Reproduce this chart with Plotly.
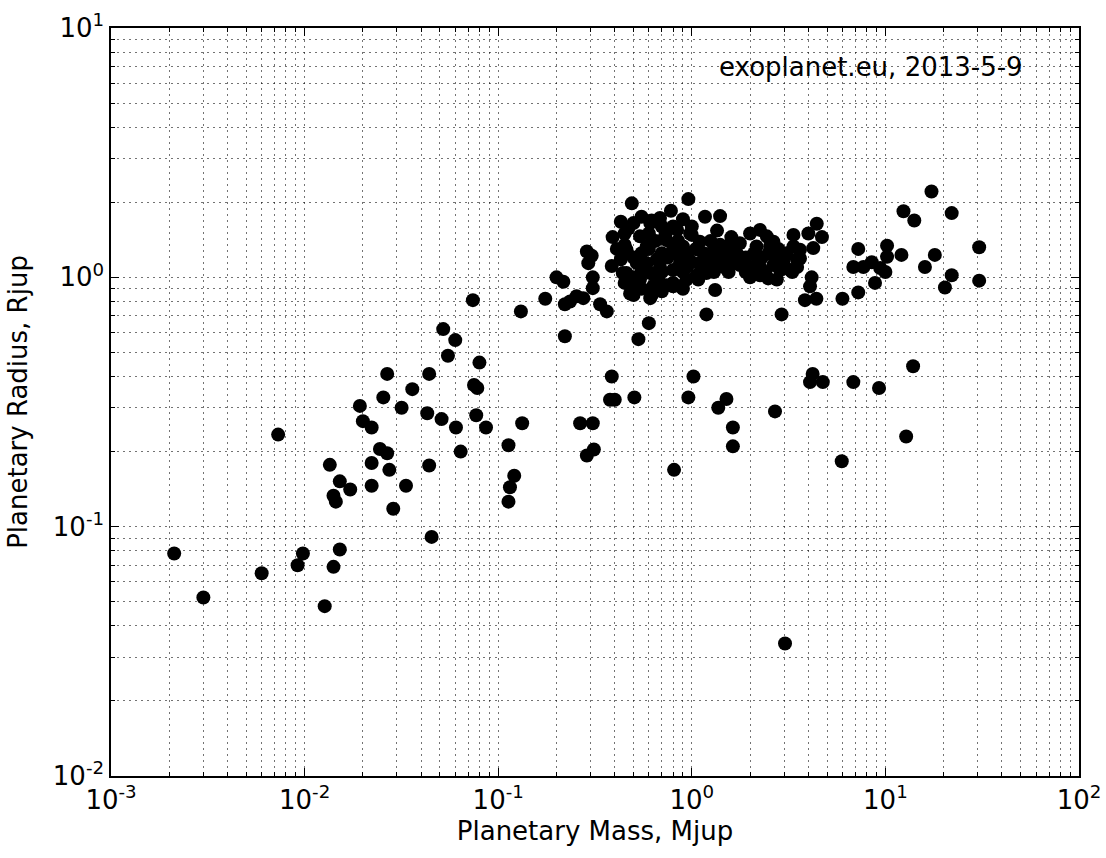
import plotly.graph_objects as go

# Planetary mass (Mjup) and radius (Rjup)
mass_low = [0.074, 0.175, 0.131, 0.052, 0.060, 0.055, 0.080, 0.0267, 0.044, 0.075, 0.078, 0.036,
            0.0255, 0.0193, 0.0317, 0.043, 0.051, 0.0605, 0.077, 0.0865, 0.133, 0.020, 0.0222, 0.0073,
            0.0245, 0.0267, 0.064, 0.113, 0.0135, 0.0222, 0.044, 0.0274, 0.121, 0.0152, 0.0172, 0.0222,
            0.0334, 0.115, 0.0141, 0.0145, 0.113, 0.0287, 0.0453, 0.00212, 0.0152, 0.0098, 0.0092,
            0.0141, 0.006, 0.003, 0.0127]
radius_low = [0.81, 0.82, 0.73, 0.62, 0.56, 0.485, 0.455, 0.41, 0.41, 0.37, 0.36, 0.356,
              0.33, 0.305, 0.30, 0.285, 0.27, 0.25, 0.28, 0.25, 0.26, 0.265, 0.25, 0.234,
              0.205, 0.197, 0.20, 0.212, 0.177, 0.18, 0.176, 0.169, 0.16, 0.152, 0.141, 0.146,
              0.146, 0.144, 0.133, 0.126, 0.126, 0.118, 0.091, 0.078, 0.081, 0.078, 0.070,
              0.069, 0.065, 0.052, 0.048]

mass_mid = [0.49, 0.43, 0.47, 0.39, 0.287, 0.304, 0.292, 0.386, 0.20, 0.217, 0.308, 0.308, 0.254,
            0.275, 0.221, 0.235, 0.336, 0.364, 0.221, 0.53, 0.6, 0.41, 0.43]
radius_mid = [1.98, 1.67, 1.57, 1.45, 1.27, 1.22, 1.14, 1.11, 1.0, 0.96, 1.0, 0.905, 0.84,
              0.825, 0.78, 0.80, 0.78, 0.73, 0.58, 0.565, 0.655, 1.30, 1.18]

mass_hot = [0.96, 0.78, 1.17, 1.40, 1.35, 0.90, 0.62, 3.35, 4.0, 4.24, 2.25, 1.32, 1.19, 2.91,
            0.61, 4.16, 4.08, 3.84, 2.75, 2.0,
            0.685, 0.84, 1.0, 1.10, 0.54, 0.585, 0.74, 0.46, 0.52, 0.66, 0.87, 1.24, 1.51, 1.77,
            2.64, 2.16, 3.35, 2.97, 3.62, 2.64, 2.0, 1.64, 1.35, 1.10, 0.94, 0.685, 0.46, 0.61,
            0.80, 1.10, 0.50, 0.63, 0.80, 0.94, 1.06, 0.50, 2.25, 3.22, 0.44, 0.48,
            0.61, 0.73, 0.98, 0.90, 1.08, 1.40, 2.0, 2.44, 2.54, 1.77, 1.51, 1.19, 0.87, 0.585,
            0.54, 1.19, 1.46, 1.77, 2.25, 2.97, 3.49, 3.62, 3.09, 2.0, 2.25, 2.48, 2.86, 0.80,
            0.685, 0.62, 0.74, 0.87, 1.08]
radius_hot = [2.06, 1.85, 1.75, 1.76, 1.54, 1.71, 1.69, 1.48, 1.50, 1.31, 1.55, 0.89, 0.71, 0.71,
              0.825, 1.0, 0.92, 0.81, 0.98, 1.04,
              1.73, 1.55, 1.48, 1.39, 1.46, 1.33, 1.41, 1.29, 1.14, 1.18, 1.21, 1.23, 1.33, 1.37,
              1.39, 1.33, 1.33, 1.19, 1.19, 1.12, 1.10, 1.16, 1.16, 1.14, 1.10, 1.10, 1.04, 1.04,
              1.07, 1.04, 0.93, 0.92, 0.92, 0.98, 1.02, 0.85, 1.05, 1.07, 1.04, 0.86,
              1.65, 1.48, 1.50, 1.33, 1.29, 1.35, 1.50, 1.46, 1.33, 1.21, 1.18, 1.14, 1.14, 1.14,
              0.98, 1.04, 1.10, 1.12, 1.10, 1.14, 1.18, 1.29, 1.25, 1.0, 1.02, 0.99, 1.07, 0.95,
              0.95, 0.85, 0.93, 0.92, 0.98]

mass_core = [0.45, 0.50, 0.55, 0.60, 0.65, 0.70, 0.75, 0.80, 0.85, 0.90, 0.95, 1.05, 1.15, 1.25,
             1.30, 1.45, 1.60, 1.70, 1.90, 2.10, 2.30, 2.50, 2.70, 2.80, 3.00, 3.30, 3.50, 0.55,
             0.65, 0.70, 0.90, 1.00, 1.20, 1.40, 1.55, 1.90, 2.20, 0.60, 0.70, 0.80, 0.45, 0.55,
             0.70, 0.90, 1.00, 0.50, 0.55, 0.45, 0.50, 1.30, 1.60, 2.40]
radius_core = [1.35, 1.20, 1.25, 1.30, 1.40, 1.25, 1.20, 1.30, 1.40, 1.20, 1.25, 1.30, 1.25, 1.40,
               1.30, 1.25, 1.30, 1.25, 1.20, 1.25, 1.20, 1.25, 1.20, 1.30, 1.10, 1.05, 1.10, 1.05,
               1.00, 1.05, 1.05, 1.15, 1.20, 1.15, 1.05, 1.05, 1.15, 1.50, 1.60, 1.60, 1.50, 0.90,
               0.88, 0.90, 1.60, 1.65, 1.75, 0.95, 1.00, 1.05, 1.45, 1.05]

mass_heavy = [17.3, 12.4, 14.1, 22, 30.5, 30.5, 22, 20.3, 16, 18, 12.1, 10.2, 10.2, 10, 8.84,
              7.24, 6.0, 7.24, 6.83, 7.7, 8.5, 9.4, 4.42, 4.7, 4.4]
radius_heavy = [2.21, 1.84, 1.69, 1.81, 1.32, 0.97, 1.02, 0.91, 1.10, 1.23, 1.23, 1.34, 1.21, 1.05,
                0.95, 0.87, 0.82, 1.30, 1.10, 1.10, 1.15, 1.09, 1.64, 1.45, 0.82]

mass_small = [0.386, 0.378, 0.40, 0.505, 1.02, 0.96, 1.51, 1.37, 2.69, 1.63, 1.63, 0.265, 0.308,
              0.287, 0.312, 0.81, 13.9, 4.21, 4.08, 4.75, 6.83, 9.27, 12.8, 5.95, 3.03]
radius_small = [0.40, 0.323, 0.323, 0.33, 0.40, 0.33, 0.325, 0.30, 0.29, 0.25, 0.21, 0.26, 0.26,
                0.193, 0.204, 0.169, 0.44, 0.41, 0.38, 0.38, 0.38, 0.36, 0.23, 0.183, 0.034]

x_tick_vals = [1e-3, 1e-2, 1e-1, 1, 10, 100]
x_tick_text = ["10<sup>-3</sup>", "10<sup>-2</sup>", "10<sup>-1</sup>", "10<sup>0</sup>",
               "10<sup>1</sup>", "10<sup>2</sup>"]
y_tick_vals = [1e-2, 1e-1, 1, 10]
y_tick_text = ["10<sup>-2</sup>", "10<sup>-1</sup>", "10<sup>0</sup>", "10<sup>1</sup>"]

mass = mass_low + mass_mid + mass_hot + mass_core + mass_heavy + mass_small
radius = radius_low + radius_mid + radius_hot + radius_core + radius_heavy + radius_small


def minor_vals(lo, hi):
    out = []
    for e in range(lo, hi):
        for k in range(2, 10):
            out.append(k * 10.0 ** e)
    return out


FONT = "DejaVu Sans"
FS = 26
fig = go.Figure()
fig.add_trace(go.Scatter(x=mass, y=radius, mode="markers",
                         marker=dict(color="black", size=14, line=dict(width=0)),
                         showlegend=False, hoverinfo="x+y"))

grid_common = dict(gridcolor="rgba(0,0,0,0.55)", gridwidth=1, griddash="2px,4px")

fig.update_xaxes(type="log", range=[-3, 2], tickmode="array", tickvals=x_tick_vals,
                 ticktext=x_tick_text, showline=True, linecolor="black", linewidth=1.5,
                 mirror="allticks", ticks="inside", ticklen=8, tickcolor="black",
                 showgrid=True, zeroline=False, automargin=False, **grid_common,
                 minor=dict(tickmode="array", tickvals=minor_vals(-3, 2), ticks="inside",
                            ticklen=4, tickcolor="black", showgrid=True, **grid_common),
                 tickfont=dict(family=FONT, size=FS, color="black"),
                 title=dict(text="Planetary Mass, Mjup", font=dict(family=FONT, size=FS, color="black"),
                            standoff=8))
fig.update_yaxes(type="log", range=[-2, 1], tickmode="array", tickvals=y_tick_vals,
                 ticktext=y_tick_text, showline=True, linecolor="black", linewidth=1.5,
                 mirror="allticks", ticks="inside", ticklen=8, tickcolor="black",
                 showgrid=True, zeroline=False, automargin=False, **grid_common,
                 minor=dict(tickmode="array", tickvals=minor_vals(-2, 1), ticks="inside",
                            ticklen=4, tickcolor="black", showgrid=True, **grid_common),
                 tickfont=dict(family=FONT, size=FS, color="black"),
                 title=dict(text="Planetary Radius, Rjup", font=dict(family=FONT, size=FS, color="black"),
                            standoff=18))

fig.add_annotation(text="exoplanet.eu, 2013-5-9", xref="paper", yref="paper",
                   x=0.944, y=0.948, xanchor="right", yanchor="middle", showarrow=False,
                   font=dict(family=FONT, size=FS, color="black"))

fig.update_layout(width=1106, height=858, margin=dict(l=111, r=27, t=28, b=82),
                  plot_bgcolor="white", paper_bgcolor="white")

fig.write_html("out.html")
